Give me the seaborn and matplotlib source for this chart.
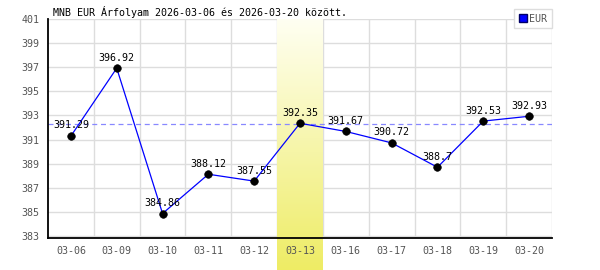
import numpy as np
import matplotlib
matplotlib.use("Agg")
import matplotlib.pyplot as plt
from matplotlib.lines import Line2D
import seaborn as sns
import pandas as pd

dates = ["03-06", "03-09", "03-10", "03-11", "03-12", "03-13",
         "03-16", "03-17", "03-18", "03-19", "03-20"]
values = [391.29, 396.92, 384.86, 388.12, 387.55, 392.35,
          391.67, 390.72, 388.7, 392.53, 392.93]
labels = ["391.29", "396.92", "384.86", "388.12", "387.55", "392.35",
          "391.67", "390.72", "388.7", "392.53", "392.93"]
ref_line = 392.3
highlight = "03-13"
yticks = [383, 385, 387, 389, 391, 393, 395, 397, 399, 401]
title = "MNB EUR Árfolyam 2026-03-06 és 2026-03-20 között."
series_name = "EUR"

sns.set_style("white")
plt.rcParams["font.family"] = ["DejaVu Sans Mono", "DejaVu Sans"]
plt.rcParams["font.size"] = 7

df = pd.DataFrame({"idx": np.arange(len(dates)), "value": values, "date": dates})

fig = plt.figure(figsize=(6, 2.7), dpi=100)
ax = fig.add_axes([48 / 600, 1 - 238 / 270, (552 - 48) / 600, (238 - 19) / 270])
ax.set_facecolor("none")

y_lo, y_hi = 382.83, 401.0
ax.set_xlim(-0.5, len(dates) - 0.5)
ax.set_ylim(y_lo, y_hi)

grid_c = "#dddddd"
# horizontal grid
for yv in yticks:
    ax.axhline(yv, color=grid_c, lw=1, zorder=0.2)
# vertical grid at category boundaries
for b in np.arange(0.5, len(dates), 1.0):
    ax.axvline(b, color=grid_c, lw=1, zorder=0.2)

# highlight band with vertical gradient
hi = dates.index(highlight)
grad = np.linspace(0, 1, 256)[:, None]
top = np.array([255, 255, 242]) / 255
bot = np.array([238, 236, 100]) / 255
img = top[None, None, :] * (1 - grad[:, :, None]) + bot[None, None, :] * grad[:, :, None]
ax.imshow(img, extent=[hi - 0.5, hi + 0.5, 380.1, y_hi], aspect="auto",
          origin="upper", zorder=0.4, clip_on=False, interpolation="bilinear")
ax.set_xlim(-0.5, len(dates) - 0.5)
ax.set_ylim(y_lo, y_hi)

# reference dashed line
ax.axhline(ref_line, color="#8888ff", lw=0.9, ls=(0, (4, 3)), zorder=1)

sns.lineplot(data=df, x="idx", y="value", ax=ax, color="#0000ff", lw=0.9,
             sort=False, zorder=2, legend=False)
sns.scatterplot(data=df, x="idx", y="value", ax=ax, color="black", s=30,
                edgecolor="black", zorder=3, legend=False)

for i, (v, t) in enumerate(zip(values, labels)):
    ax.annotate(t, (i, v), xytext=(0, 4), textcoords="offset points",
                ha="center", va="bottom", fontsize=7.2, color="black", zorder=4)

ax.set_xticks(np.arange(len(dates)))
ax.set_xticklabels(dates, color="#555555", fontsize=7.2)
ax.set_yticks(yticks)
ax.set_yticklabels([str(y) for y in yticks], color="#555555", fontsize=7.2)
ax.tick_params(axis="both", length=0, pad=6)
ax.set_xlabel("")
ax.set_ylabel("")

for s in ["top", "right"]:
    ax.spines[s].set_visible(False)
for s in ["left", "bottom"]:
    ax.spines[s].set_color("black")
    ax.spines[s].set_linewidth(1.3)
    ax.spines[s].set_zorder(5)

fig.text(53 / 600, 1 - 16 / 270, title, fontsize=7.2, color="black",
         ha="left", va="baseline")

handle = Line2D([0], [0], marker="s", color="none", markerfacecolor="#0000ff",
                markeredgecolor="#000066", markersize=6)
leg = ax.legend([handle], [series_name], loc="upper right",
                bbox_to_anchor=(552 / 600, 1 - 9 / 270), bbox_transform=fig.transFigure,
                borderaxespad=0, frameon=True, fancybox=False, framealpha=1,
                edgecolor="#dddddd", handlelength=0.8, handletextpad=0.3,
                borderpad=0.45, fontsize=7.2)
for txt in leg.get_texts():
    txt.set_color("#555555")
leg.set_zorder(10)

fig.savefig("out.png", dpi=100)
